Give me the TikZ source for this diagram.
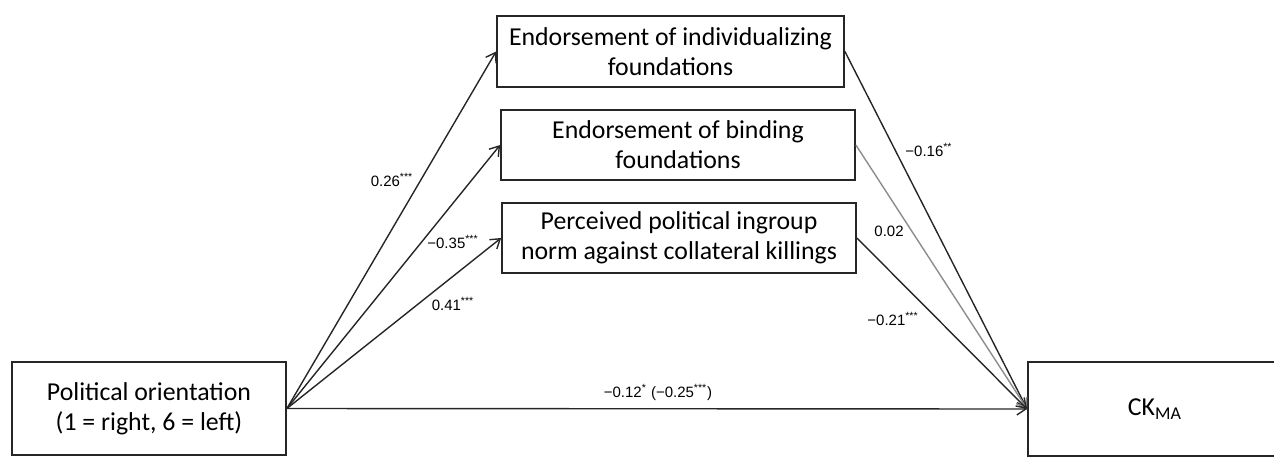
\documentclass[tikz,border=0pt]{standalone}
\usepackage{fontspec}
\setmainfont{Carlito}
\newfontfamily\lblfont{Liberation Sans}
\usetikzlibrary{arrows.meta}
\begin{document}
\begin{tikzpicture}[x=0.5pt,y=-0.5pt,
 box/.style={draw=black!85, line width=0.9pt, inner sep=0pt, align=center, font=\fontsize{12.9}{15}\selectfont},
 conn/.style={draw=black!85, line width=0.7pt, -{Straight Barb[length=4.5pt,width=6pt]}},
 lbl/.style={font=\lblfont\fontsize{7.5}{8.5}\selectfont, inner sep=0pt}]
\useasboundingbox (0,0) rectangle (1274,456);
\clip (0,0) rectangle (1274,456);
\node[box, minimum width=137pt, minimum height=46.5pt] (po) at (149,408.5) {Political orientation\\(1 = right, 6 = left)};
\node[box, minimum width=173.5pt, minimum height=35.5pt] (ind) at (670.5,51.5) {Endorsement of individualizing\\foundations};
\node[box, minimum width=177pt, minimum height=35pt] (bin) at (678,145) {Endorsement of binding\\foundations};
\node[box, minimum width=177pt, minimum height=35pt] (ing) at (679,238) {Perceived political ingroup\\norm against collateral killings};
\node[box, minimum width=127pt, minimum height=47pt] (ck) at (1155,409) {\raisebox{-3pt}{CK\textsubscript{MA}}};
\draw[conn] (po.east) -- (ind.west);
\draw[conn] (po.east) -- (bin.west);
\draw[conn] (po.east) -- (ing.west);
\draw[conn] (po.east) -- (ck.west);
\draw[conn] (ind.east) -- (ck.west);
\draw[conn, draw=black!45] (bin.east) -- (ck.west);
\draw[conn] (ing.east) -- (ck.west);
\node[lbl] (l1) at (392,180) {0.26\textsuperscript{***}};
\node[lbl] (l2) at (453,242) {−0.35\textsuperscript{***}};
\node[lbl] (l3) at (453,304) {0.41\textsuperscript{***}};
\node[lbl] (l4) at (929,150) {−0.16\textsuperscript{**}};
\node[lbl] (l5) at (889,231) {0.02};
\node[lbl] (l6) at (893,319) {−0.21\textsuperscript{***}};
\node[lbl] (l7) at (658,392) {−0.12\textsuperscript{*} (−0.25\textsuperscript{***})};
\end{tikzpicture}
\end{document}
